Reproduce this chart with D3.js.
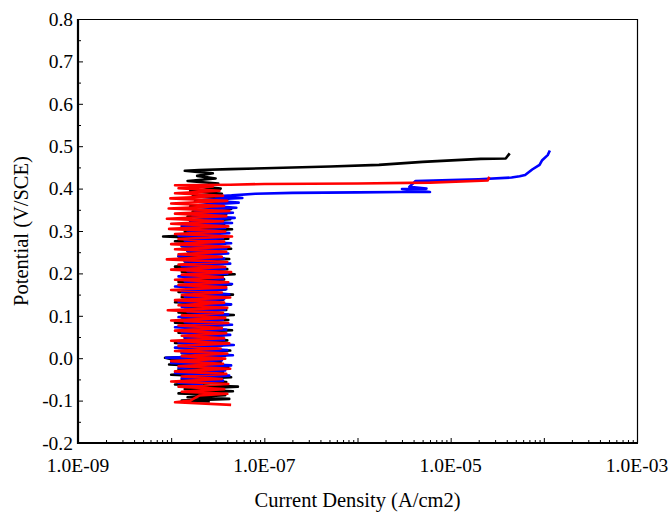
<!DOCTYPE html>
<html>
<head>
<meta charset="utf-8">
<script src="https://cdn.jsdelivr.net/npm/d3@7"></script>
<style>
  html, body { margin: 0; padding: 0; background: #fff; }
  svg { display: block; }
</style>
</head>
<body>
<svg id="chart" width="672" height="513"></svg>
<script>
// ---- data: [current density (A/cm2), potential (V/SCE)] ----
const xTickValues = [1e-9, 1e-7, 1e-5, 1e-3];
const xTickLabels = ["1.0E-09", "1.0E-07", "1.0E-05", "1.0E-03"];
const yTickValues = [0.8, 0.7, 0.6, 0.5, 0.4, 0.3, 0.2, 0.1, 0.0, -0.1, -0.2];
const yTickLabels = ["0.8", "0.7", "0.6", "0.5", "0.4", "0.3", "0.2", "0.1", "0.0", "-0.1", "-0.2"];

const blackSeries = [
[2.6e-8,-0.102],[1.3e-8,-0.100],[4.2e-8,-0.096],[1.5e-8,-0.092],[3.8e-8,-0.087],[1.2e-8,-0.083],
[4.6e-8,-0.078],[1.4e-8,-0.073],[5.2e-8,-0.067],[1.1e-8,-0.062],[3.9e-8,-0.056],[1.3e-8,-0.050],
[4.4e-8,-0.045],[1.0e-8,-0.039],[3.6e-8,-0.033],[1.2e-8,-0.027],[4.1e-8,-0.021],[9.5e-9,-0.015],
[3.4e-8,-0.009],[1.1e-8,-0.004],[8.6e-9,0.001],[3.8e-8,0.006],[1.3e-8,0.012],[4.3e-8,0.018],
[1.2e-8,0.024],[3.5e-8,0.030],[1.1e-8,0.036],[4.0e-8,0.042],[1.4e-8,0.048],[3.7e-8,0.054],
[1.2e-8,0.060],[4.5e-8,0.066],[1.5e-8,0.072],[3.6e-8,0.078],[1.1e-8,0.084],[4.1e-8,0.090],
[1.3e-8,0.096],[4.7e-8,0.102],[1.2e-8,0.108],[3.9e-8,0.114],[1.4e-8,0.120],[4.3e-8,0.126],
[1.1e-8,0.132],[3.6e-8,0.138],[1.3e-8,0.144],[4.6e-8,0.150],[1.2e-8,0.156],[3.8e-8,0.162],
[1.5e-8,0.168],[4.4e-8,0.174],[1.2e-8,0.180],[3.7e-8,0.186],[1.4e-8,0.192],[4.8e-8,0.198],
[1.3e-8,0.204],[4.0e-8,0.210],[1.1e-8,0.216],[3.6e-8,0.222],[1.4e-8,0.228],[4.2e-8,0.234],
[1.2e-8,0.240],[3.5e-8,0.246],[1.5e-8,0.252],[4.4e-8,0.258],[1.3e-8,0.264],[3.8e-8,0.270],
[1.1e-8,0.276],[4.1e-8,0.282],[8.2e-9,0.287],[3.3e-8,0.292],[1.4e-8,0.298],[4.5e-8,0.304],
[1.3e-8,0.310],[3.7e-8,0.316],[1.6e-8,0.322],[4.3e-8,0.328],[1.5e-8,0.334],[3.9e-8,0.340],
[1.7e-8,0.346],[4.4e-8,0.352],[1.6e-8,0.358],[3.6e-8,0.364],[1.8e-8,0.370],[4.1e-8,0.376],
[1.7e-8,0.382],[3.5e-8,0.388],[1.6e-8,0.394],[3.4e-8,0.400],[1.8e-8,0.406],[3.2e-8,0.412],
[1.5e-8,0.418],[3.0e-8,0.424],[1.9e-8,0.430],[2.8e-8,0.436],[1.4e-8,0.442],
[2.0e-8,0.444],[4.3e-8,0.446],[1.0e-7,0.448],[5.1e-7,0.452],[1.7e-6,0.456],[5.0e-6,0.463],
[2.1e-5,0.470],[3.9e-5,0.471],[4.3e-5,0.483]
];

const blueSeries = [
[2.2e-8,-0.062],[1.2e-8,-0.058],[3.6e-8,-0.053],[1.3e-8,-0.047],[4.2e-8,-0.041],[1.1e-8,-0.035],
[3.8e-8,-0.029],[1.2e-8,-0.023],[4.4e-8,-0.017],[1.0e-8,-0.011],[3.5e-8,-0.005],[8.8e-9,0.001],
[4.6e-8,0.007],[1.3e-8,0.013],[4.0e-8,0.019],[1.1e-8,0.025],[4.7e-8,0.031],[1.2e-8,0.037],
[3.7e-8,0.043],[1.4e-8,0.049],[4.3e-8,0.055],[1.3e-8,0.061],[3.9e-8,0.067],[1.1e-8,0.073],
[4.5e-8,0.079],[1.4e-8,0.085],[3.6e-8,0.091],[1.2e-8,0.097],[4.1e-8,0.103],[1.5e-8,0.109],
[3.8e-8,0.115],[1.3e-8,0.121],[4.4e-8,0.127],[1.2e-8,0.133],[3.7e-8,0.139],[1.4e-8,0.145],
[4.2e-8,0.151],[1.3e-8,0.157],[3.9e-8,0.163],[1.1e-8,0.169],[4.5e-8,0.175],[1.4e-8,0.181],
[3.6e-8,0.187],[1.2e-8,0.193],[4.0e-8,0.199],[1.5e-8,0.205],[3.8e-8,0.211],[1.3e-8,0.217],
[4.3e-8,0.223],[1.4e-8,0.229],[3.7e-8,0.235],[1.2e-8,0.241],[4.1e-8,0.247],[1.5e-8,0.253],
[3.9e-8,0.259],[1.3e-8,0.265],[4.4e-8,0.271],[1.4e-8,0.277],[3.6e-8,0.283],[1.2e-8,0.289],
[4.2e-8,0.295],[1.5e-8,0.301],[3.8e-8,0.307],[1.3e-8,0.313],[4.5e-8,0.319],[1.6e-8,0.325],
[4.8e-8,0.331],[1.7e-8,0.337],[4.6e-8,0.343],[1.8e-8,0.349],[5.0e-8,0.355],[2.0e-8,0.361],
[5.3e-8,0.367],[2.2e-8,0.373],[5.8e-8,0.378],[3.0e-8,0.382],[6.2e-8,0.386],[4.5e-8,0.384],
[8.0e-8,0.388],[2.0e-7,0.390],[1.0e-6,0.391],[3.0e-6,0.392],[6.0e-6,0.392],[3.0e-6,0.399],
[5.5e-6,0.400],[3.6e-6,0.404],[4.2e-6,0.418],[1.0e-5,0.420],[2.0e-5,0.422],[4.5e-5,0.426],
[5.5e-5,0.429],[6.3e-5,0.432],[7.5e-5,0.445],[9.0e-5,0.456],[9.6e-5,0.467],[1.1e-4,0.479],
[1.16e-4,0.490]
];

const redSeries = [
[4.4e-8,-0.110],[1.1e-8,-0.104],[1.6e-8,-0.100],[2.0e-8,-0.088],[4.0e-8,-0.084],[1.3e-8,-0.079],
[3.7e-8,-0.073],[1.2e-8,-0.067],[4.1e-8,-0.061],[1.0e-8,-0.055],[3.5e-8,-0.049],[1.3e-8,-0.043],
[3.9e-8,-0.037],[1.1e-8,-0.031],[4.3e-8,-0.025],[1.2e-8,-0.019],[3.6e-8,-0.013],[1.0e-8,-0.007],
[3.8e-8,-0.001],[1.3e-8,0.005],[4.0e-8,0.011],[1.1e-8,0.017],[3.4e-8,0.023],[1.2e-8,0.029],
[4.2e-8,0.035],[1.0e-8,0.041],[3.7e-8,0.047],[1.3e-8,0.053],[3.9e-8,0.059],[1.1e-8,0.065],
[3.5e-8,0.071],[1.2e-8,0.077],[4.1e-8,0.083],[1.0e-8,0.089],[3.8e-8,0.095],[1.3e-8,0.101],
[3.6e-8,0.107],[9.2e-9,0.113],[4.0e-8,0.119],[1.2e-8,0.125],[3.7e-8,0.131],[1.1e-8,0.137],
[4.3e-8,0.143],[1.3e-8,0.149],[3.5e-8,0.155],[1.0e-8,0.161],[3.9e-8,0.167],[1.2e-8,0.173],
[4.1e-8,0.179],[1.1e-8,0.185],[3.6e-8,0.191],[1.3e-8,0.197],[4.4e-8,0.203],[1.0e-8,0.209],
[3.8e-8,0.215],[1.2e-8,0.221],[4.0e-8,0.227],[9.0e-9,0.233],[3.5e-8,0.239],[1.2e-8,0.245],
[3.9e-8,0.251],[1.1e-8,0.257],[4.2e-8,0.263],[1.0e-8,0.269],[3.7e-8,0.275],[1.2e-8,0.281],
[4.5e-8,0.287],[1.1e-8,0.293],[3.8e-8,0.299],[9.5e-9,0.305],[4.1e-8,0.311],[1.0e-8,0.317],
[3.6e-8,0.323],[9.0e-9,0.329],[3.9e-8,0.335],[1.1e-8,0.341],[4.2e-8,0.347],[9.4e-9,0.353],
[3.7e-8,0.359],[1.0e-8,0.365],[4.0e-8,0.371],[9.8e-9,0.377],[3.6e-8,0.383],[1.1e-8,0.389],
[3.3e-8,0.395],[1.2e-8,0.401],[2.8e-8,0.405],[1.1e-8,0.408],
[4.3e-8,0.409],[1.0e-7,0.411],[1.0e-6,0.412],[6.0e-6,0.414],[2.5e-5,0.419],[2.6e-5,0.428]
];

const seriesList = [
  { data: blackSeries, color: "#000000" },
  { data: blueSeries,  color: "#0000ff" },
  { data: redSeries,   color: "#ff0000" }
];

// ---- layout ----
const FONT = "'Liberation Serif', 'DejaVu Serif', 'Times New Roman', serif";
const svg = d3.select("#chart");
const pL = 78, pR = 637, pT = 19, pB = 443;

const x = d3.scaleLog().domain([1e-9, 1e-3]).range([pL, pR]);
const y = d3.scaleLinear().domain([-0.2, 0.8]).range([pB, pT]);

// frame (top and right thin)
svg.append("line").attr("x1", pL).attr("x2", pR).attr("y1", pT + 0.5).attr("y2", pT + 0.5)
  .attr("stroke", "#000").attr("stroke-width", 1.2);
svg.append("line").attr("x1", pR + 0.5).attr("x2", pR + 0.5).attr("y1", pT).attr("y2", pB)
  .attr("stroke", "#000").attr("stroke-width", 1.2);

// curves
const line = d3.line().x(d => x(d[0])).y(d => y(d[1]));
seriesList.forEach(s => {
  svg.append("path").datum(s.data).attr("d", line)
    .attr("fill", "none").attr("stroke", s.color)
    .attr("stroke-width", 2.6).attr("stroke-linejoin", "round");
});

// x axis: ticks inward
const xMinor = [];
for (let e = -9; e < -3; e++) for (let m = 2; m <= 9; m++) xMinor.push(m * Math.pow(10, e));
const xMajor = d3.range(-9, -2).map(e => Math.pow(10, e));

const gx = svg.append("g").attr("transform", `translate(0,${pB})`);
gx.call(d3.axisBottom(x).tickValues(xMinor).tickSize(-3).tickFormat(""))
  .call(g => g.select(".domain").remove());
const gx2 = svg.append("g").attr("transform", `translate(0,${pB})`);
gx2.call(d3.axisBottom(x).tickValues(xMajor).tickSize(-5).tickFormat(""))
  .call(g => g.select(".domain").remove());
gx.selectAll("line").attr("stroke", "#000");
gx2.selectAll("line").attr("stroke", "#000");

svg.append("g").selectAll("text").data(xTickValues).join("text")
  .attr("x", d => x(d)).attr("y", 472)
  .attr("text-anchor", "middle").attr("font-size", 19.5)
  .style("font-family", FONT).attr("fill", "#000")
  .text((d, i) => xTickLabels[i]);

// y axis
const yMinor = [0.75, 0.65, 0.55, 0.45, 0.35, 0.25, 0.15, 0.05, -0.05, -0.15];
const gy = svg.append("g").attr("transform", `translate(${pL},0)`);
gy.call(d3.axisLeft(y).tickValues(yMinor).tickSize(-3).tickFormat(""))
  .call(g => g.select(".domain").remove());
const gy2 = svg.append("g").attr("transform", `translate(${pL},0)`);
gy2.call(d3.axisLeft(y).tickValues(yTickValues).tickSize(-5).tickFormat(""))
  .call(g => g.select(".domain").remove());
gy.selectAll("line").attr("stroke", "#000");
gy2.selectAll("line").attr("stroke", "#000");

svg.append("g").selectAll("text").data(yTickValues).join("text")
  .attr("x", 73).attr("y", d => y(d)).attr("dy", "0.35em")
  .attr("text-anchor", "end").attr("font-size", 19.5)
  .style("font-family", FONT).attr("fill", "#000")
  .text((d, i) => yTickLabels[i]);

// main axis lines (thicker)
svg.append("line").attr("x1", pL).attr("x2", pL).attr("y1", pT).attr("y2", pB + 1)
  .attr("stroke", "#000").attr("stroke-width", 2.2);
svg.append("line").attr("x1", pL - 1).attr("x2", pR + 1).attr("y1", pB).attr("y2", pB)
  .attr("stroke", "#000").attr("stroke-width", 2.2);

// titles
svg.append("text").attr("x", (pL + pR) / 2).attr("y", 507)
  .attr("text-anchor", "middle").attr("font-size", 20.5)
  .style("font-family", FONT).attr("fill", "#000").text("Current Density (A/cm2)");
svg.append("text").attr("transform", `translate(28,${(pT + pB) / 2}) rotate(-90)`)
  .attr("text-anchor", "middle").attr("font-size", 20.5)
  .style("font-family", FONT).attr("fill", "#000").text("Potential (V/SCE)");
</script>
</body>
</html>
